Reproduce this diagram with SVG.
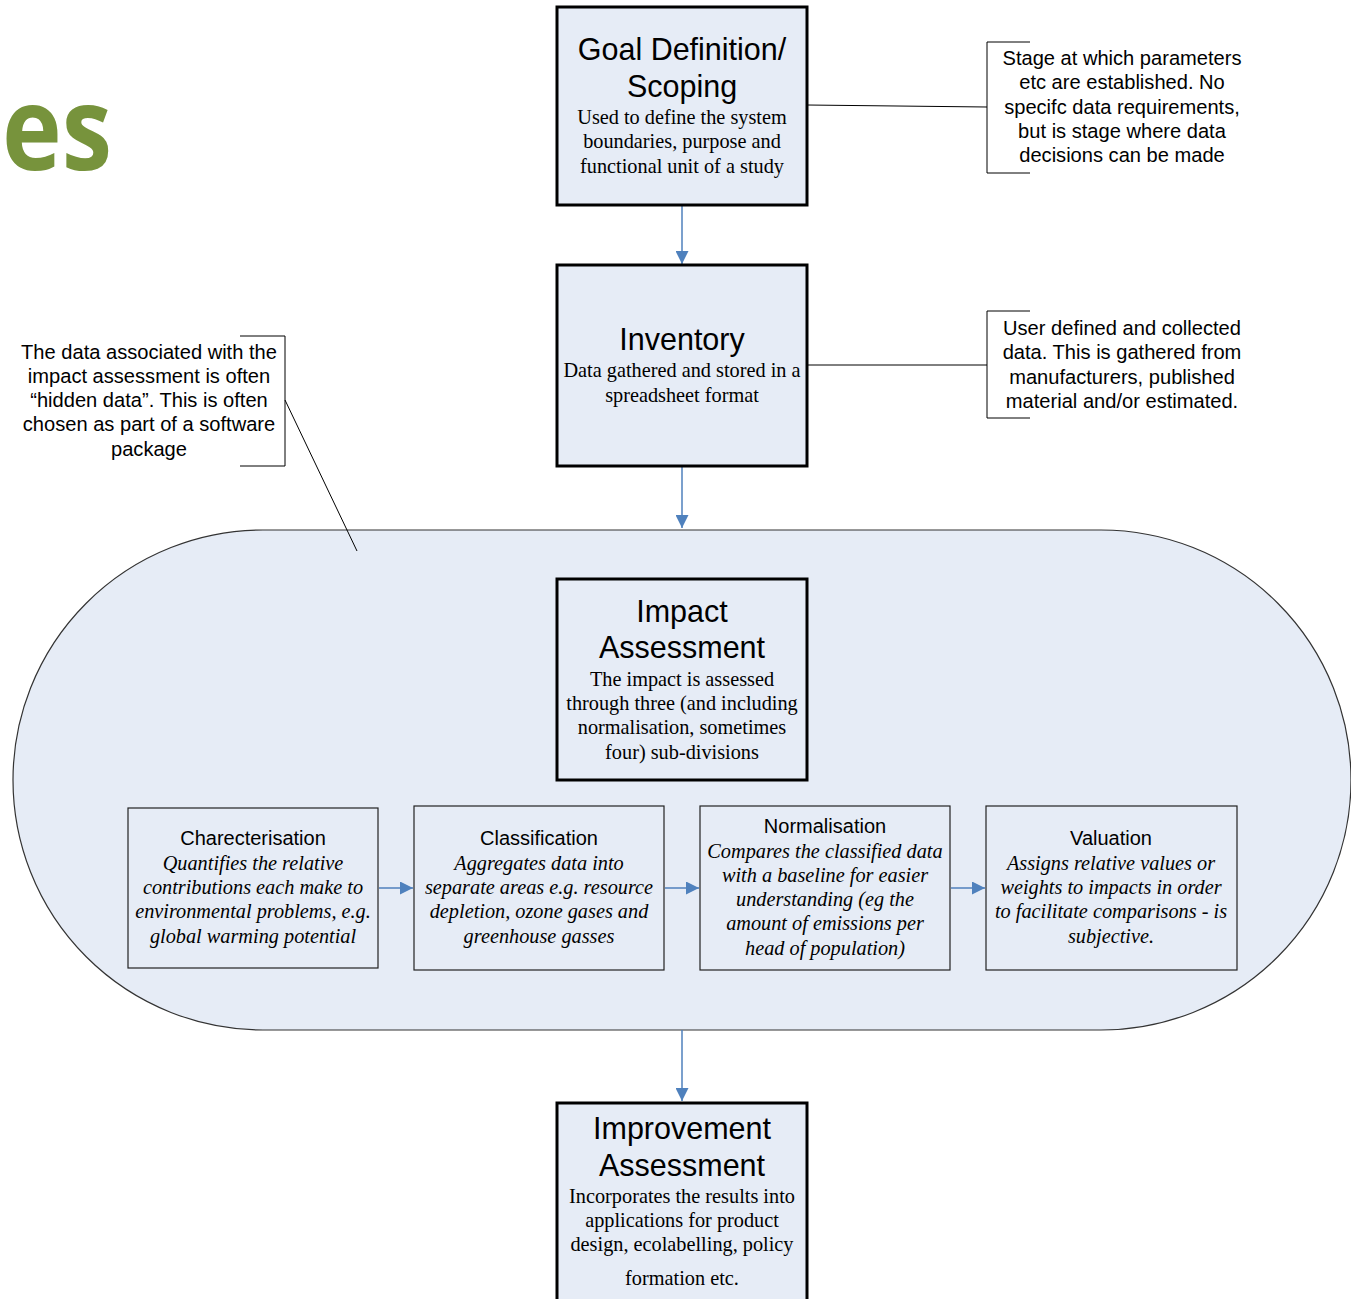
<svg xmlns="http://www.w3.org/2000/svg" width="1351" height="1299" viewBox="0 0 1351 1299">
<defs>
<marker id="ah" viewBox="0 0 10 10" refX="10" refY="5" markerWidth="13" markerHeight="13" markerUnits="userSpaceOnUse" orient="auto"><path d="M0,0 L10,5 L0,10 Z" fill="#4F81BD"/></marker>
<style>
.main{fill:#E6ECF6;stroke:#000;stroke-width:3}
.sub{fill:#E6ECF6;stroke:#222;stroke-width:1.2}
.t{font-family:"Liberation Sans",Arial,sans-serif;font-size:30.5px;fill:#000;text-anchor:middle}
.st{font-family:"Liberation Sans",Arial,sans-serif;font-size:20px;fill:#000;text-anchor:middle}
.b{font-family:"Liberation Serif","Times New Roman",serif;font-size:20.3px;fill:#000;text-anchor:middle}
.i{font-family:"Liberation Serif","Times New Roman",serif;font-size:20.3px;font-style:italic;fill:#000;text-anchor:middle}
.c{font-family:"Liberation Sans",Arial,sans-serif;font-size:20.1px;fill:#000;text-anchor:middle}
.arr{stroke:#4F81BD;stroke-width:1.5;fill:none;marker-end:url(#ah)}
.ln{stroke:#000;stroke-width:1;fill:none}
</style>
</defs>
<rect width="1351" height="1299" fill="#fff"/>
<text x="2" y="170" font-family="'Open Sans',Calibri,sans-serif" font-weight="bold" font-size="116" fill="#77933C" textLength="110" lengthAdjust="spacingAndGlyphs">es</text>

<g id="impact-region">
<rect x="13" y="530" width="1338" height="500" rx="250" ry="250" fill="#E6ECF6" stroke="#333" stroke-width="1.2"/>
</g>

<g id="connectors">
<line class="arr" x1="682" y1="206" x2="682" y2="264"/>
<line class="arr" x1="682" y1="467" x2="682" y2="528"/>
<line class="arr" x1="682" y1="1030" x2="682" y2="1101"/>
<line class="arr" x1="379" y1="888" x2="413" y2="888"/>
<line class="arr" x1="665" y1="888" x2="699" y2="888"/>
<line class="arr" x1="951" y1="888" x2="985" y2="888"/>
<line class="ln" x1="807" y1="105" x2="987" y2="107" stroke="#333"/>
<line class="ln" x1="807" y1="365" x2="987" y2="365"/>
<line class="ln" x1="285" y1="400" x2="357" y2="551"/>
</g>

<g id="goal">
<rect class="main" x="557" y="7" width="250" height="198"/>
<text class="t" x="682" y="60">Goal Definition/</text>
<text class="t" x="682" y="97">Scoping</text>
<text class="b" x="682" y="124">Used to define the system</text>
<text class="b" x="682" y="148">boundaries, purpose and</text>
<text class="b" x="682" y="173">functional unit of a study</text>
</g>

<g id="inventory">
<rect class="main" x="557" y="265" width="250" height="201"/>
<text class="t" x="682" y="350">Inventory</text>
<text class="b" x="682" y="377">Data gathered and stored in a</text>
<text class="b" x="682" y="402">spreadsheet format</text>
</g>

<g id="impact">
<rect class="main" x="557" y="579" width="250" height="201"/>
<text class="t" x="682" y="622">Impact</text>
<text class="t" x="682" y="658">Assessment</text>
<text class="b" x="682" y="686">The impact is assessed</text>
<text class="b" x="682" y="710">through three (and including</text>
<text class="b" x="682" y="734">normalisation, sometimes</text>
<text class="b" x="682" y="759">four) sub-divisions</text>
</g>

<g id="charecterisation">
<rect class="sub" x="128" y="808" width="250" height="160"/>
<text class="st" x="253" y="845">Charecterisation</text>
<text class="i" x="253" y="870">Quantifies the relative</text>
<text class="i" x="253" y="894">contributions each make to</text>
<text class="i" x="253" y="918">environmental problems, e.g.</text>
<text class="i" x="253" y="943">global warming potential</text>
</g>

<g id="classification">
<rect class="sub" x="414" y="806" width="250" height="164"/>
<text class="st" x="539" y="845">Classification</text>
<text class="i" x="539" y="870">Aggregates data into</text>
<text class="i" x="539" y="894">separate areas e.g. resource</text>
<text class="i" x="539" y="918">depletion, ozone gases and</text>
<text class="i" x="539" y="943">greenhouse gasses</text>
</g>

<g id="normalisation">
<rect class="sub" x="700" y="806" width="250" height="164"/>
<text class="st" x="825" y="833">Normalisation</text>
<text class="i" x="825" y="858">Compares the classified data</text>
<text class="i" x="825" y="882">with a baseline for easier</text>
<text class="i" x="825" y="906">understanding (eg the</text>
<text class="i" x="825" y="930">amount of emissions per</text>
<text class="i" x="825" y="955">head of population)</text>
</g>

<g id="valuation">
<rect class="sub" x="986" y="806" width="251" height="164"/>
<text class="st" x="1111" y="845">Valuation</text>
<text class="i" x="1111" y="870">Assigns relative values or</text>
<text class="i" x="1111" y="894">weights to impacts in order</text>
<text class="i" x="1111" y="918">to facilitate comparisons - is</text>
<text class="i" x="1111" y="943">subjective.</text>
</g>

<g id="improvement">
<rect class="main" x="557" y="1103" width="250" height="210"/>
<text class="t" x="682" y="1139">Improvement</text>
<text class="t" x="682" y="1176">Assessment</text>
<text class="b" x="682" y="1203">Incorporates the results into</text>
<text class="b" x="682" y="1227">applications for product</text>
<text class="b" x="682" y="1251">design, ecolabelling, policy</text>
<text class="b" x="682" y="1285">formation etc.</text>
</g>

<g id="note-goal">
<path class="ln" d="M1030,42 H987 V173 H1030"/>
<text class="c" x="1122" y="65">Stage at which parameters</text>
<text class="c" x="1122" y="89">etc are established. No</text>
<text class="c" x="1122" y="114">specifc data requirements,</text>
<text class="c" x="1122" y="138">but is stage where data</text>
<text class="c" x="1122" y="162">decisions can be made</text>
</g>

<g id="note-inventory">
<path class="ln" d="M1030,311 H987 V418 H1030"/>
<text class="c" x="1122" y="335">User defined and collected</text>
<text class="c" x="1122" y="359">data. This is gathered from</text>
<text class="c" x="1122" y="384">manufacturers, published</text>
<text class="c" x="1122" y="408">material and/or estimated.</text>
</g>

<g id="note-impact">
<path class="ln" d="M240,336 H285 V466 H240"/>
<text class="c" x="149" y="359">The data associated with the</text>
<text class="c" x="149" y="383">impact assessment is often</text>
<text class="c" x="149" y="407">“hidden data”. This is often</text>
<text class="c" x="149" y="431">chosen as part of a software</text>
<text class="c" x="149" y="456">package</text>
</g>
</svg>
